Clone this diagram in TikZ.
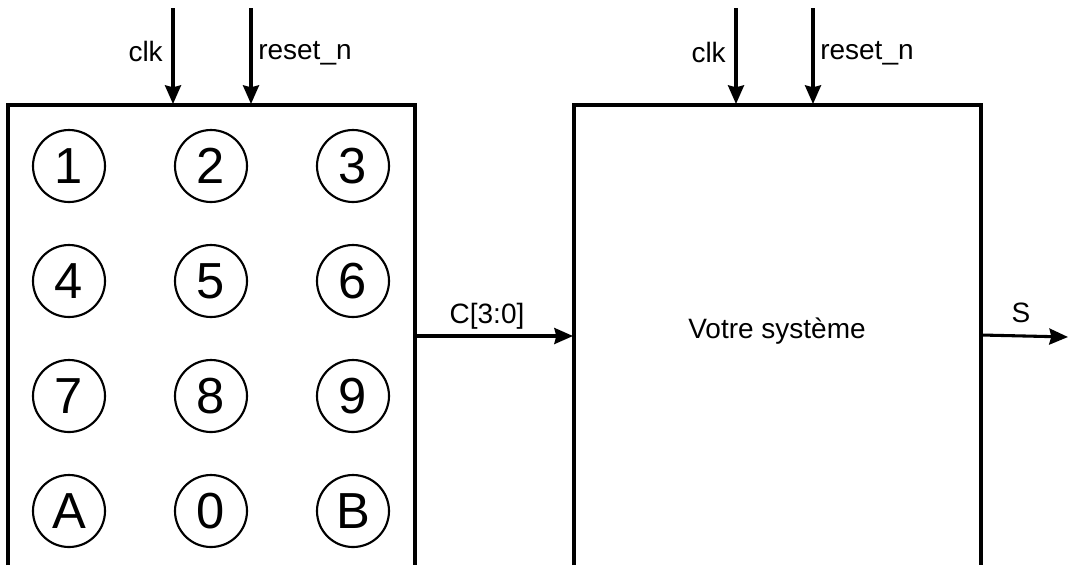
\documentclass[tikz,border=0pt]{standalone}
\usepackage{fontspec}
\setmainfont{Liberation Sans}
\usetikzlibrary{arrows.meta}
\begin{document}
\begin{tikzpicture}[x=0.75pt,y=-0.75pt,
  wire/.style={line width=2.3pt,-{Stealth[length=14pt,width=12pt,inset=1.5pt]}},
  boxline/.style={line width=2.3pt},
  key/.style={circle,draw,line width=1.6pt,minimum size=54pt,inner sep=0pt,font=\fontsize{38}{40}\selectfont},
  lbl/.style={font=\fontsize{21}{24}\selectfont,inner sep=0pt}]
\useasboundingbox (0,0) rectangle (1068,565);
% boxes (open at bottom)
\draw[boxline] (8,565) -- (8,105) -- (415,105) -- (415,565);
\draw[boxline] (574,565) -- (574,105) -- (981,105) -- (981,565);
% coordinates
\coordinate (clkA0) at (173,8);   \coordinate (clkA1) at (173,104);
\coordinate (rstA0) at (251,8);   \coordinate (rstA1) at (251,104);
\coordinate (clkB0) at (736,8);   \coordinate (clkB1) at (736,104);
\coordinate (rstB0) at (813,8);   \coordinate (rstB1) at (813,104);
\coordinate (cOut) at (415,336);  \coordinate (cIn) at (573,336);
\coordinate (sOut) at (981,335);  \coordinate (sEnd) at (1068,337);
% arrows
\draw[wire] (clkA0) -- (clkA1);
\draw[wire] (rstA0) -- (rstA1);
\draw[wire] (clkB0) -- (clkB1);
\draw[wire] (rstB0) -- (rstB1);
\draw[wire] (cOut) -- (cIn);
\draw[wire] (sOut) -- (sEnd);
% labels
\node[lbl,anchor=base east] (lclkA) at (163,61) {clk};
\node[lbl,anchor=base west] (lrstA) at (258,59) {reset\_n};
\node[lbl,anchor=base east] (lclkB) at (726,62) {clk};
\node[lbl,anchor=base west] (lrstB) at (820,59) {reset\_n};
\node[lbl,anchor=base] (lc) at (487,323) {C[3:0]};
\node[lbl,anchor=base] (ls) at (1021,322) {S};
\node[lbl] (sys) at (777,331) {Votre système};
% keypad
\node[key] (k1) at (69,166) {1};
\node[key] (k2) at (211,166) {2};
\node[key] (k3) at (353,166) {3};
\node[key] (k4) at (69,281) {4};
\node[key] (k5) at (211,281) {5};
\node[key] (k6) at (353,281) {6};
\node[key] (k7) at (69,396) {7};
\node[key] (k8) at (211,396) {8};
\node[key] (k9) at (353,396) {9};
\node[key] (kA) at (69,511) {A};
\node[key] (k0) at (211,511) {0};
\node[key] (kB) at (353,511) {B};
\end{tikzpicture}
\end{document}
